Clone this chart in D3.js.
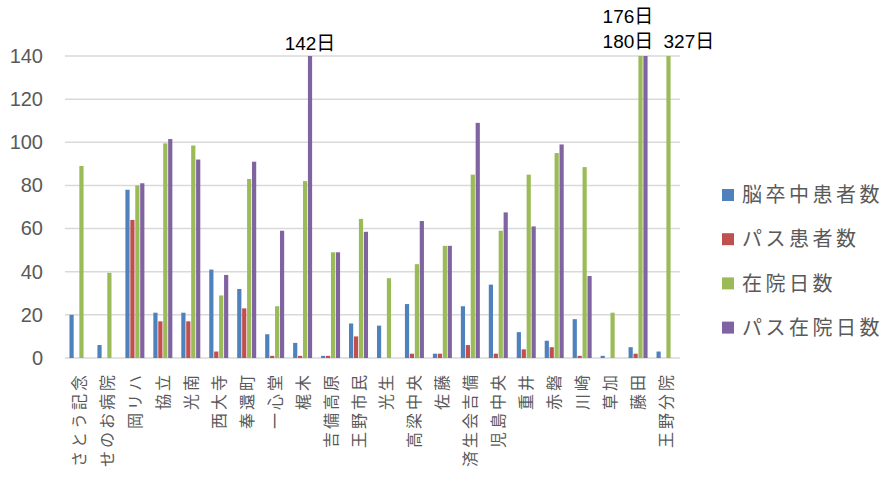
<!DOCTYPE html>
<html>
<head>
<meta charset="utf-8">
<script src="https://cdn.jsdelivr.net/npm/d3@7"></script>
<style>
  body { margin: 0; background: #fff; }
  svg text { font-family: "Liberation Sans", "Noto Sans CJK JP", sans-serif; }
  .cjk { font-family: "Noto Sans CJK JP", sans-serif; }
</style>
</head>
<body>
<div id="chart"></div>
<script>
// data
var categories = ["さとう記念", "せのお病院", "岡リハ", "協立", "光南", "西大寺", "奉還町", "一心堂", "梶木", "吉備高原", "王野市民",
  "光生", "高梁中央", "佐藤", "済生会吉備", "児島中央", "重井", "赤磐", "川崎", "草加", "藤田", "王野分院"];
var seriesNames = ["脳卒中患者数", "パス患者数", "在院日数", "パス在院日数"];
var strokePatients = [20, 6, 78, 21, 21, 41, 32, 11, 7, 1, 16, 15, 25, 2, 24, 34, 12, 8, 18, 1, 5, 3];
var pathPatients   = [0, 0, 64, 17, 17, 3, 23, 1, 1, 1, 10, 0, 2, 2, 6, 2, 4, 5, 1, 0, 2, 0];
var stayDays       = [89, 39.5, 80, 99.5, 98.5, 29, 83, 24, 82, 49, 64.5, 37, 43.5, 52, 85, 59, 85, 95, 88.5, 21, 180, 327];
var pathStayDays   = [0, 0, 81, 101.5, 92, 38.5, 91, 59, 142, 49, 58.5, 0, 63.5, 52, 109, 67.5, 61, 99, 38, 0, 176, 0];
var yTicks = [0, 20, 40, 60, 80, 100, 120, 140];
var colors = ["#4F81BD", "#C0504D", "#9BBB59", "#8064A2"];

var W = 885, H = 477;
var margin = { top: 56, left: 65, right: 205, bottom: 119 };
var width = W - margin.left - margin.right;
var height = H - margin.top - margin.bottom;

var svg = d3.select("#chart").append("svg")
  .attr("width", W).attr("height", H);

var g = svg.append("g").attr("transform", `translate(${margin.left},${margin.top})`);

// scales
var x0 = d3.scaleBand().domain(categories).range([0, width])
  .paddingInner(0.32).paddingOuter(0.16);
var x1 = d3.scaleBand().domain(d3.range(4)).range([0, x0.bandwidth()]).paddingInner(0.15);
var y = d3.scaleLinear().domain([0, 140]).range([height, 0]).clamp(true);

// gridlines
g.selectAll(".grid").data(yTicks).join("line")
  .attr("class", "grid")
  .attr("x1", 0).attr("x2", width)
  .attr("y1", d => y(d)).attr("y2", d => y(d))
  .attr("stroke", "#D9D9D9").attr("stroke-width", 1.5);

// y axis labels
var yaxis = d3.axisLeft(y).tickValues(yTicks).tickSize(0).tickPadding(22);
var g_y = g.append("g").call(yaxis);
g_y.select(".domain").remove();
g_y.selectAll("text")
  .attr("fill", "#595959")
  .style("font-size", "20px")
  .style("font-family", "'Liberation Sans', sans-serif");

// bars
var rows = categories.map((c, i) => ({
  cat: c,
  vals: [strokePatients[i], pathPatients[i], stayDays[i], pathStayDays[i]]
}));

var groups = g.selectAll(".grp").data(rows).join("g")
  .attr("class", "grp")
  .attr("transform", d => `translate(${x0(d.cat)},0)`);

groups.selectAll("rect").data(d => d.vals.map((v, k) => ({ v: v, k: k })))
  .join("rect")
  .attr("x", d => x1(d.k))
  .attr("width", x1.bandwidth())
  .attr("y", d => y(d.v))
  .attr("height", d => height - y(d.v))
  .attr("fill", d => colors[d.k]);

// x labels, rotated
var g_x = g.append("g").attr("transform", `translate(0,${height})`);
g_x.selectAll("text").data(categories).join("text")
  .attr("class", "cjk")
  .attr("transform", d => `translate(${x0(d) + x0.bandwidth() / 2 + 6},14) rotate(-90)`)
  .attr("text-anchor", "end")
  .attr("fill", "#595959")
  .style("font-size", "16px")
  .style("letter-spacing", "3px")
  .text(d => d);

// value notes for clipped bars
var notes = [
  { cat: "梶木", text: "142日", dx: x1(3) + x1.bandwidth() / 2, dy: -6, anchor: "middle" },
  { cat: "藤田", text: "176日", dx: -26, dy: -33, anchor: "start" },
  { cat: "藤田", text: "180日", dx: -26, dy: -8, anchor: "start" },
  { cat: "王野分院", text: "327日", dx: 7, dy: -8, anchor: "start" }
];
g.selectAll(".note").data(notes).join("text")
  .attr("class", "note")
  .attr("x", d => x0(d.cat) + d.dx)
  .attr("y", d => y(140) + d.dy)
  .attr("text-anchor", d => d.anchor)
  .attr("fill", "#000")
  .style("font-size", "19px")
  .text(d => d.text);

// legend
var legend = svg.append("g").attr("transform", "translate(722,195)");
var li = legend.selectAll("g").data(seriesNames).join("g")
  .attr("transform", (d, i) => `translate(0,${i * 44.2})`);
li.append("rect")
  .attr("x", 0).attr("y", -6).attr("width", 12).attr("height", 12)
  .attr("fill", (d, i) => colors[i]);
li.append("text")
  .attr("class", "cjk")
  .attr("x", 20).attr("y", 0).attr("dy", "0.36em")
  .attr("fill", "#595959")
  .style("font-size", "20px")
  .style("letter-spacing", "3.5px")
  .text(d => d);
</script>
</body>
</html>
